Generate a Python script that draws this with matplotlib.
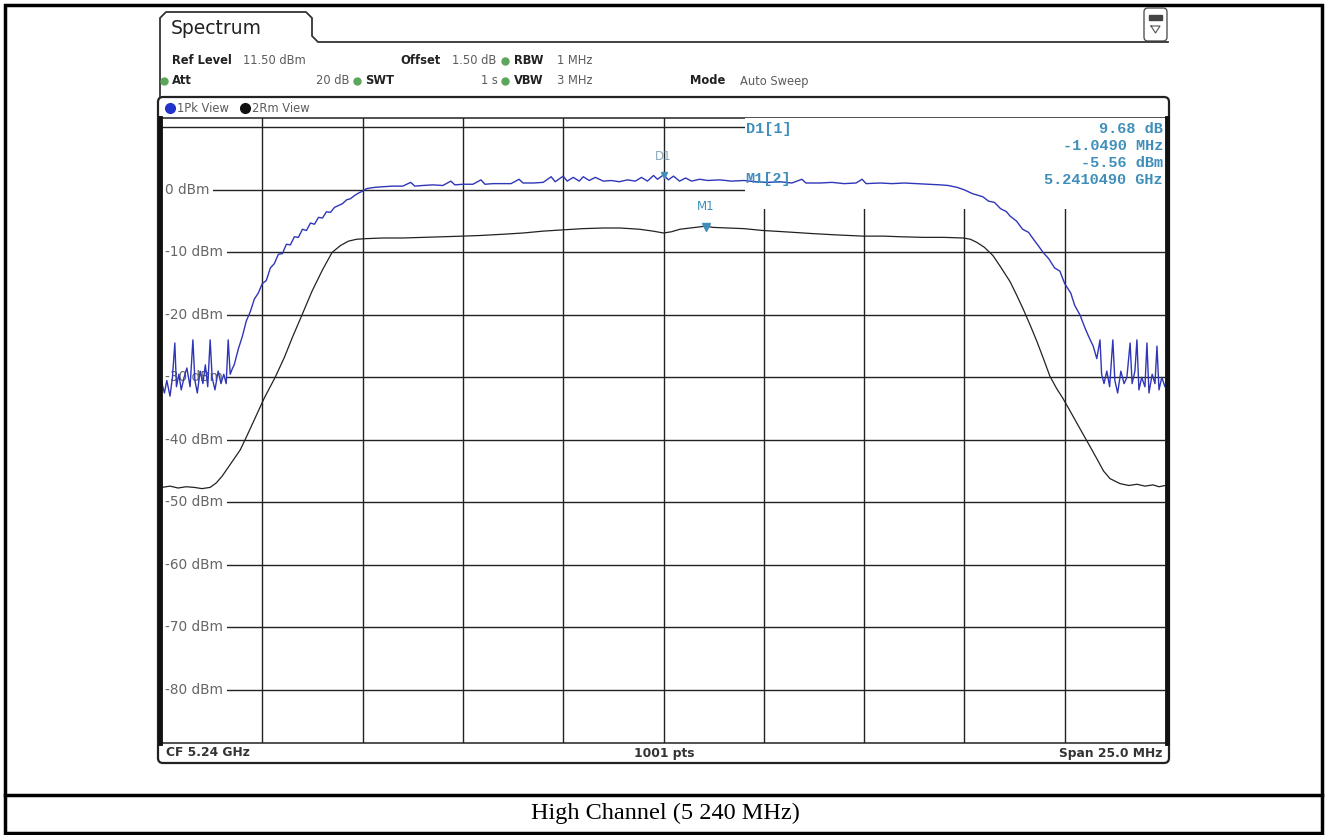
import matplotlib
matplotlib.use("Agg")
import matplotlib.pyplot as plt
from matplotlib.patches import FancyBboxPatch, Rectangle

# frequency offset from CF (MHz) and level (dBm)
pk_freq = [-12.50, -12.44, -12.38, -12.30, -12.24, -12.18, -12.14, -12.08, -12.02, -11.95,
           -11.88, -11.80, -11.73, -11.68, -11.62, -11.55, -11.48, -11.42, -11.36, -11.30,
           -11.25, -11.18, -11.10, -11.03, -10.96, -10.90, -10.85, -10.80, -10.74,
           -10.70, -10.60, -10.50, -10.40, -10.30, -10.20, -10.10, -10.00, -9.90, -9.80,
           -9.70, -9.60, -9.50, -9.40, -9.30, -9.20, -9.10, -9.00, -8.90, -8.80,
           -8.70, -8.60, -8.50, -8.40, -8.30, -8.20, -8.10, -8.00, -7.90, -7.80,
           -7.70, -7.60, -7.50, -7.40, -7.20,
           -7.00, -6.75, -6.50, -6.30, -6.20, -6.00, -5.75, -5.50, -5.30, -5.20,
           -5.00, -4.75, -4.55, -4.45, -4.25, -4.00, -3.80, -3.60, -3.50, -3.25,
           -3.00, -2.80, -2.70, -2.50, -2.40, -2.25, -2.10, -2.00, -1.85, -1.70,
           -1.50, -1.30, -1.10, -0.90, -0.70, -0.55, -0.40, -0.25, -0.15, 0.00,
           0.12, 0.25, 0.40, 0.55, 0.70, 0.90, 1.10, 1.40, 1.70, 2.00,
           2.30, 2.60, 2.90, 3.20, 3.45, 3.55, 3.90, 4.20, 4.50, 4.80,
           4.95, 5.05, 5.40, 5.70, 6.00, 6.30, 6.60, 6.90, 7.10, 7.32,
           7.50, 7.70, 7.96, 8.10, 8.25, 8.40, 8.55, 8.64, 8.80, 8.95,
           9.10, 9.21, 9.35, 9.46, 9.60, 9.75, 9.88, 10.00, 10.15, 10.25,
           10.38, 10.50, 10.60, 10.71, 10.80, 10.88, 10.92, 10.98, 11.05, 11.12,
           11.20, 11.25, 11.32, 11.40, 11.48, 11.55, 11.63, 11.68, 11.75, 11.80,
           11.85, 11.92, 12.00, 12.05, 12.10, 12.18, 12.25, 12.30, 12.35, 12.42,
           12.50]
pk_level = [-31.0, -32.5, -30.5, -33.0, -30.0, -24.5, -31.5, -29.5, -32.0, -30.0,
            -28.5, -31.5, -24.0, -30.5, -32.5, -29.0, -31.0, -28.0, -31.5, -24.0,
            -30.0, -32.0, -29.0, -31.0, -29.5, -31.0, -24.0, -29.5, -28.5,
            -28.0, -25.5, -23.5, -21.0, -19.5, -17.5, -16.5, -15.0, -14.5, -12.5,
            -11.8, -10.3, -10.2, -8.7, -8.8, -7.5, -7.6, -6.3, -6.5, -5.3,
            -5.5, -4.4, -4.5, -3.5, -3.6, -2.8, -2.5, -2.2, -1.6, -1.4,
            -0.9, -0.5, -0.2, 0.2, 0.4,
            0.5, 0.6, 0.6, 1.2, 0.6, 0.7, 0.8, 0.7, 1.4, 0.8,
            0.9, 0.9, 1.6, 0.9, 1.0, 1.0, 1.0, 1.7, 1.1, 1.1,
            1.2, 2.1, 1.3, 2.2, 1.4, 2.0, 1.4, 2.1, 1.5, 2.0,
            1.4, 1.5, 1.3, 1.6, 1.4, 2.0, 1.4, 2.3, 1.7, 2.4,
            1.6, 2.2, 1.4, 1.9, 1.4, 1.7, 1.5, 1.6, 1.4, 1.5,
            1.3, 1.2, 1.3, 1.1, 1.7, 1.1, 1.1, 1.2, 1.0, 1.1,
            1.7, 1.0, 1.1, 1.0, 1.1, 1.0, 0.9, 0.8, 0.7, 0.4,
            0.0, -0.6, -1.1, -1.8, -2.0, -3.0, -3.5, -4.2, -5.0, -6.3,
            -6.8, -7.8, -9.0, -10.0, -11.0, -12.5, -13.0, -15.0, -16.5, -18.5,
            -20.0, -22.0, -23.5, -25.0, -27.0, -24.0, -29.5, -31.0, -29.0, -31.5,
            -24.0, -30.5, -32.5, -29.0, -31.0, -30.0, -24.5, -31.0, -29.0, -24.0,
            -32.0, -30.0, -31.5, -24.5, -32.5, -29.5, -31.0, -25.0, -32.0, -30.0,
            -31.5]

rm_freq = [-12.50, -12.30, -12.10, -11.90, -11.70, -11.50, -11.30, -11.15, -11.00, -10.85,
           -10.70, -10.55, -10.43, -10.20, -9.95, -9.68, -9.45, -9.25, -9.01, -8.76,
           -8.50, -8.26, -8.05, -7.85, -7.65, -7.40, -7.00, -6.50, -6.00, -5.50,
           -5.00, -4.57, -4.00, -3.50, -3.00, -2.51, -2.00, -1.50, -1.08, -0.60,
           -0.26, 0.00, 0.20, 0.41, 0.80, 1.05, 1.23, 1.60, 2.00, 2.48,
           3.00, 3.73, 4.30, 4.97, 5.50, 5.90, 6.50, 7.00, 7.47, 7.65,
           7.81, 8.00, 8.21, 8.40, 8.64, 8.80, 8.96, 9.15, 9.31, 9.47,
           9.63, 9.80, 9.96, 10.18, 10.38, 10.60, 10.80, 10.97, 11.13, 11.38,
           11.60, 11.80, 12.00, 12.20, 12.35, 12.50]
rm_level = [-47.6, -47.4, -47.7, -47.5, -47.6, -47.8, -47.6, -46.9, -45.8, -44.4,
            -43.0, -41.6, -40.0, -36.8, -33.3, -30.0, -26.8, -23.6, -20.0, -16.2,
            -12.8, -10.0, -8.9, -8.2, -7.9, -7.8, -7.7, -7.7, -7.6, -7.5,
            -7.4, -7.3, -7.1, -6.9, -6.6, -6.4, -6.2, -6.1, -6.1, -6.3,
            -6.6, -6.9, -6.7, -6.3, -6.0, -5.8, -6.0, -6.1, -6.2, -6.5,
            -6.7, -7.0, -7.2, -7.4, -7.4, -7.5, -7.6, -7.6, -7.7, -7.9,
            -8.4, -9.2, -10.5, -12.3, -14.7, -16.8, -19.0, -21.8, -24.3, -27.0,
            -29.8, -31.8, -33.4, -35.9, -38.2, -40.7, -43.0, -45.0, -46.2, -47.0,
            -47.3, -47.1, -47.4, -47.2, -47.5, -47.3]

y_ticks = [10, 0, -10, -20, -30, -40, -50, -60, -70, -80]
y_labels = ["", "0 dBm", "-10 dBm", "-20 dBm", "-30 dBm", "-40 dBm",
            "-50 dBm", "-60 dBm", "-70 dBm", "-80 dBm"]
x_ticks = [-10.0, -7.5, -5.0, -2.5, 0.0, 2.5, 5.0, 7.5, 10.0]

m1_freq, m1_level = 1.049, -5.56
d1_freq, d1_level = 0.0, 2.4
marker_lines = ["9.68 dB", "-1.0490 MHz", "-5.56 dBm", "5.2410490 GHz"]

MK = "#3f8fba"
GRAY = "#5c5c5c"
GREEN = "#5aa65a"

fig = plt.figure(figsize=(13.3, 8.35), dpi=100)
bg = fig.add_axes([0, 0, 1, 1])
bg.set_xlim(0, 1330)
bg.set_ylim(835, 0)
bg.axis("off")

# page table frame + caption
bg.add_patch(Rectangle((5, 5), 1317, 828, fill=False, lw=2.5, ec="black"))
bg.plot([5, 1322], [795, 795], color="black", lw=2.5)
bg.text(665, 813, "High Channel (5 240 MHz)", family="Liberation Serif",
        fontsize=17.5, ha="center", va="center")

# instrument tab
bg.plot([160, 160, 166, 306, 312, 312, 318, 1168],
        [97, 18, 12, 12, 18, 36, 42, 42], color="#333", lw=1.3)
bg.text(171, 29, "Spectrum", fontsize=13.5, va="center", color="#222")
bg.add_patch(FancyBboxPatch((1144, 8), 23, 33, boxstyle="round,pad=0,rounding_size=4",
                            fc="white", ec="#555", lw=1))
bg.add_patch(Rectangle((1149, 15), 13, 5, fc="#444", ec="#444"))
bg.plot([1151, 1160, 1155.5, 1151], [26, 26, 33, 26], color="#555", lw=0.8)

# settings rows
def kv(x, y, s, bold=False, ha="left"):
    bg.text(x, y, s, fontsize=8.3, fontweight="bold" if bold else "normal",
            color="#222" if bold else GRAY, va="center", ha=ha)

kv(172, 61, "Ref Level", True)
kv(243, 61, "11.50 dBm")
kv(400, 61, "Offset", True)
kv(452, 61, "1.50 dB")
kv(514, 61, "RBW", True)
kv(557, 61, "1 MHz")
kv(172, 81, "Att", True)
kv(349, 81, "20 dB", ha="right")
kv(365, 81, "SWT", True)
kv(498, 81, "1 s", ha="right")
kv(514, 81, "VBW", True)
kv(557, 81, "3 MHz")
kv(690, 81, "Mode", True)
kv(740, 81, "Auto Sweep")
for gx, gy in [(505, 61), (164, 81), (357, 81), (505, 81)]:
    bg.plot(gx, gy, "o", ms=5, color=GREEN)

# plot box
bg.add_patch(FancyBboxPatch((158, 97), 1011, 666, boxstyle="round,pad=0,rounding_size=5",
                            fc="none", ec="#222", lw=1.6))
bg.plot([158, 1169], [118, 118], color="#333", lw=1.2)
bg.plot([158, 1169], [743, 743], color="#333", lw=1.2)
bg.plot(170, 108, "o", ms=7, color="#2233cc")
bg.text(177, 108, "1Pk View", fontsize=8.3, color=GRAY, va="center")
bg.plot(245, 108, "o", ms=7, color="#111")
bg.text(252, 108, "2Rm View", fontsize=8.3, color=GRAY, va="center")
bg.text(166, 753, "CF 5.24 GHz", fontsize=8.8, fontweight="bold", color="#333", va="center")
bg.text(664, 753, "1001 pts", fontsize=8.8, fontweight="bold", color="#333",
        va="center", ha="center")
bg.text(1162, 753, "Span 25.0 MHz", fontsize=8.8, fontweight="bold", color="#333",
        va="center", ha="right")

# spectrum axes
ax = fig.add_axes([162 / 1330, (835 - 743) / 835, 1003 / 1330, 625 / 835])
ax.set_xlim(-12.5, 12.5)
ax.set_ylim(-88.5, 11.5)
ax.axis("off")
for yv in y_ticks:
    ax.axhline(yv, color="#222", lw=1.0, zorder=1)
for xv in x_ticks:
    ax.axvline(xv, color="#222", lw=1.0, zorder=1)
# marker table hides the grid behind it
ax.add_patch(Rectangle((2.03, -3.0), 10.5, 15, fc="white", ec="none", zorder=2))
for yv, lab in zip(y_ticks, y_labels):
    if lab:
        ax.text(-12.42, yv, lab, fontsize=9.8, color="#666", va="center", zorder=3,
                bbox=dict(fc="white", ec="none", pad=2.5))

ax.plot(rm_freq, rm_level, color="#222", lw=0.9, zorder=4)
ax.plot(pk_freq, pk_level, color="#2f36b8", lw=1.0, zorder=5)

# edge bars of the screen, drawn last so labels don't cut them
for ex in (160, 1167):
    ax.plot([ex, ex], [118, 743], color="#111", lw=3.5, zorder=10,
            transform=bg.transData, clip_on=False)

# markers
ax.plot(m1_freq, m1_level - 0.4, marker="v", ms=6, color=MK, zorder=6)
ax.text(m1_freq, m1_level + 2.3, "M1", fontsize=8.5, color=MK, ha="center", zorder=6)
ax.plot(d1_freq, d1_level, marker="v", ms=5, color=MK, zorder=6)
ax.text(d1_freq, d1_level + 2.3, "D1", fontsize=8.5, color="#8aa6b8", ha="center", zorder=6)
ax.text(2.05, 9.7, "D1[1]", fontsize=11, fontweight="bold", color=MK,
        va="center", zorder=6, family="Liberation Mono")
ax.text(2.05, 1.7, "M1[2]", fontsize=11, fontweight="bold", color=MK,
        va="center", zorder=6, family="Liberation Mono")
for i, s in enumerate(marker_lines):
    ax.text(12.45, 9.7 - i * 2.7, s, fontsize=11, fontweight="bold", color=MK,
            ha="right", va="center", zorder=6, family="Liberation Mono")

fig.savefig("out.png", dpi=100)
